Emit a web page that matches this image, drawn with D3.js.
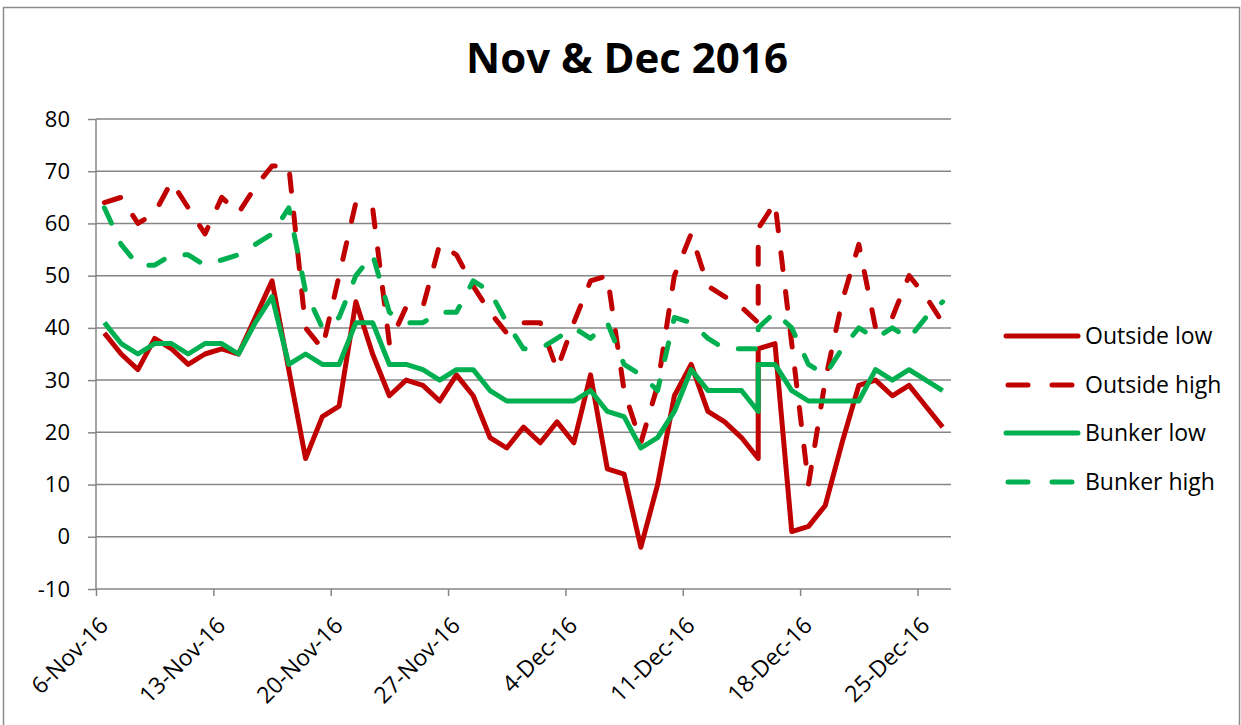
<!DOCTYPE html>
<html>
<head>
<meta charset="utf-8">
<script src="https://cdn.jsdelivr.net/npm/d3@7"></script>
<style>
  body { margin: 0; background: #fff; }
  text { font-family: "Open Sans", sans-serif; fill: #000; }
</style>
</head>
<body>
<div id="chart"></div>
<script>
const width = 1241;
const height = 725;

// one entry per reading; 15-Dec has two readings
const dates = [
  "2016-11-06","2016-11-07","2016-11-08","2016-11-09","2016-11-10","2016-11-11","2016-11-12",
  "2016-11-13","2016-11-14","2016-11-15","2016-11-16","2016-11-17","2016-11-18","2016-11-19",
  "2016-11-20","2016-11-21","2016-11-22","2016-11-23","2016-11-24","2016-11-25","2016-11-26",
  "2016-11-27","2016-11-28","2016-11-29","2016-11-30","2016-12-01","2016-12-02","2016-12-03",
  "2016-12-04","2016-12-05","2016-12-06","2016-12-07","2016-12-08","2016-12-09","2016-12-10",
  "2016-12-11","2016-12-12","2016-12-13","2016-12-14","2016-12-15","2016-12-15","2016-12-16",
  "2016-12-17","2016-12-18","2016-12-19","2016-12-20","2016-12-21","2016-12-22","2016-12-23",
  "2016-12-24","2016-12-25","2016-12-26"
];

const outsideLow = [39,35,32,38,36,33,35,36,35,42, 49,32,15,23,25,45,35,27,30,29,
  26,31,27,19,17,21,18,22,18,31, 13,12,-2,10,27,33,24,22,19,15,36,
  37,1,2,6,18,29,30,27,29,25,21];
const outsideHigh = [64,65,60,62,68,63,58,65,62,67, 71,71,40,36,50,64,63,37,44,44,
  56,54,48,43,39,41,41,32,41,49, 50,28,18,29,50,58,48,46,44,41,59,
  64,37,10,30,45,56,40,42,50,46,41];
const bunkerLow = [41,37,35,37,37,35,37,37,35,41, 46,33,35,33,33,41,41,33,33,32,
  30,32,32,28,26,26,26,26,26,28, 24,23,17,19,24,32,28,28,28,24,33,
  33,28,26,26,26,26,32,30,32,30,28];
const bunkerHigh = [63,56,52,52,54,54,52,53,54,56, 58,63,47,40,42,50,54,43,41,41,
  43,43,49,47,41,36,36,38,40,38, 41,33,31,28,42,41,38,36,36,36,40,
  43,40,33,31,36,40,38,40,38,42,45];

const seriesNames = ["Outside low", "Outside high", "Bunker low", "Bunker high"];
const seriesValues = [outsideLow, outsideHigh, bunkerLow, bunkerHigh];
const seriesColors = ["#c00000", "#c00000", "#00b050", "#00b050"];
const seriesDashed = [false, true, false, true];

const yTicks = [-10, 0, 10, 20, 30, 40, 50, 60, 70, 80];

const margin = { left: 96, right: 951, top: 119, bottom: 589 };
const parse = d3.timeParse("%Y-%m-%d");
const days = dates.map(parse);

const x = d3.scaleTime()
    .domain([parse("2016-11-06"), parse("2016-12-27")])
    .range([margin.left, margin.right]);
const y = d3.scaleLinear()
    .domain([-10, 80])
    .range([margin.bottom, margin.top]);

const svg = d3.select("#chart")
    .append("svg")
    .attr("width", width)
    .attr("height", height);

// outer chart border
svg.append("rect")
    .attr("x", 3.5).attr("y", 7.5)
    .attr("width", 1236).attr("height", 740)
    .attr("fill", "#fff")
    .attr("stroke", "#8c8c8c")
    .attr("stroke-width", 1.5);

// title
svg.append("text")
    .attr("x", 627)
    .attr("y", 73)
    .attr("text-anchor", "middle")
    .style("font-size", "42px")
    .style("font-weight", "bold")
    .text("Nov & Dec 2016");

// y gridlines + axis
const yAxis = d3.axisLeft(y)
    .tickValues(yTicks)
    .tickSize(8)
    .tickPadding(18)
    .tickFormat(d => String(d));
const gy = svg.append("g")
    .attr("transform", `translate(${margin.left},0)`)
    .call(yAxis);
gy.select(".domain").remove();
gy.selectAll(".tick line").attr("stroke", "#868686").attr("stroke-width", 1.5);
gy.selectAll(".tick text").style("font-size", "22px").style("font-family", "Open Sans");

svg.append("g")
    .selectAll("line")
    .data(yTicks)
    .join("line")
    .attr("x1", margin.left)
    .attr("x2", margin.right)
    .attr("y1", d => y(d))
    .attr("y2", d => y(d))
    .attr("stroke", "#868686")
    .attr("stroke-width", 1.5);

svg.append("line")
    .attr("x1", margin.left).attr("x2", margin.left)
    .attr("y1", margin.top).attr("y2", margin.bottom)
    .attr("stroke", "#868686")
    .attr("stroke-width", 1.5);

// x axis (weekly ticks from Sunday 6-Nov)
const xAxis = d3.axisBottom(x)
    .ticks(d3.timeWeek.every(1))
    .tickSize(7)
    .tickFormat(d3.timeFormat("%-d-%b-%y"));
const gx = svg.append("g")
    .attr("transform", `translate(0,${margin.bottom})`)
    .call(xAxis);
gx.select(".domain").remove();
gx.selectAll(".tick line").attr("stroke", "#868686").attr("stroke-width", 1.5);
gx.selectAll(".tick text")
    .style("font-size", "23px")
    .style("font-family", "Open Sans")
    .attr("text-anchor", "end")
    .attr("dy", null)
    .attr("y", null)
    .attr("transform", "translate(13,38) rotate(-45)");

// series
const line = d3.line()
    .x((d, i) => x(d3.timeHour.offset(days[i], 12)))
    .y(d => y(d));

seriesValues.forEach((vals, k) => {
    svg.append("path")
        .datum(vals)
        .attr("fill", "none")
        .attr("stroke", seriesColors[k])
        .attr("stroke-width", 5)
        .attr("stroke-linejoin", "round")
        .attr("stroke-linecap", seriesDashed[k] ? "round" : "butt")
        .attr("stroke-dasharray", seriesDashed[k] ? "17 22" : null)
        .attr("d", line);
});

// legend
const legendY = [336, 385, 433, 482];
const legend = svg.append("g");
seriesNames.forEach((name, k) => {
    legend.append("line")
        .attr("x1", seriesDashed[k] ? 1008 : 1006)
        .attr("x2", 1078)
        .attr("y1", legendY[k]).attr("y2", legendY[k])
        .attr("stroke", seriesColors[k])
        .attr("stroke-width", 5)
        .attr("stroke-linecap", "round")
        .attr("stroke-dasharray", seriesDashed[k] ? "20 24" : null);
    legend.append("text")
        .attr("x", 1085)
        .attr("y", legendY[k])
        .attr("dy", "0.35em")
        .style("font-size", "23px")
        .text(name);
});
</script>
</body>
</html>
